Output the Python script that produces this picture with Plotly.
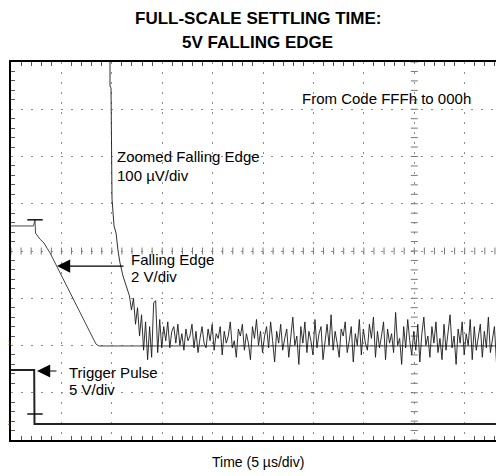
import numpy as np
import plotly.graph_objects as go

# scope screen: 5 us per division on x, values below are in screen divisions on y
X_MAX = 48.9

trigger_t = [0, 2.30, 2.33, 48.9]
trigger_v = [-2.52, -2.52, -3.66, -3.66]

edge_t = [0, 2.23, 2.38, 2.43, 2.88, 3.27, 3.57, 3.87, 8.43, 8.73, 48.9]
edge_v = [0.53, 0.53, 0.66, 0.38, 0.25, 0.17, 0.06, -0.04, -1.97, -2.01, -2.01]

zoom_t = [9.82, 9.82, 9.92, 10.02, 10.22, 10.42, 10.62, 10.81, 11.11, 11.51]
zoom_v = [4.13, 3.49, 3.45, 1.10, 0.53, 0.38, 0.0, -0.25, -0.53, -0.80]

# settling noise on the zoomed trace, one reading every 0.2 us from 11.75 us
zoom_noise = [
    -0.95, -1.25, -1.00, -1.55, -1.20, -1.80, -1.35, -2.10, -1.50, -2.30,
    -1.60, -2.25, -1.10, -1.05, -2.15, -1.45,
    -2.05, -1.60, -1.90, -1.50, -2.05, -1.70, -1.60, -1.95, -1.55, -2.00,
    -1.75, -2.10, -1.65, -1.90, -1.80, -1.55, -2.05, -1.70, -2.15, -1.85,
    -1.60, -1.95, -2.05, -1.65, -1.90, -1.55, -2.10, -1.75, -1.85, -1.60,
    -2.20, -1.70, -1.95, -1.80, -1.50, -2.05, -1.90, -2.25, -1.65, -1.80,
    -1.55, -2.10, -1.75, -1.95, -2.30, -1.60, -1.85, -1.45, -2.00, -1.70,
    -2.15, -1.80, -1.60, -2.05, -1.50, -1.90, -2.35, -1.70, -1.95, -1.55,
    -2.10, -1.85, -1.65, -2.25, -1.75, -1.40, -2.00, -1.80, -2.40, -1.60,
    -1.95, -1.50, -2.15, -1.70, -1.90, -2.20, -1.45, -2.05, -1.75, -1.60,
    -2.30, -1.85, -1.55, -2.00, -1.35, -2.10, -1.70, -1.95, -2.25, -1.65,
    -1.80, -1.50, -2.15, -1.90, -1.60, -2.35, -1.75, -2.00, -1.45, -2.20,
    -1.65, -1.95, -2.10, -1.55, -1.85, -1.40, -2.25, -1.70, -2.05, -1.80,
    -1.50, -2.30, -1.65, -1.95, -1.75, -2.15, -1.30, -2.00, -1.85, -2.40,
    -1.60, -2.05, -1.45, -1.90, -2.20, -1.70, -2.10, -1.55, -2.35, -1.75,
    -1.40, -2.00, -1.80, -2.25, -1.60, -1.95, -1.50, -2.15, -1.85, -2.30,
    -1.55, -2.10, -1.70, -1.35, -2.05, -1.80, -2.40, -1.65, -1.95, -1.50,
    -2.20, -1.75, -2.00, -1.45, -2.30, -1.60, -2.10, -1.85, -1.55, -2.25,
    -1.70, -2.05, -1.40, -2.15, -1.90, -1.60, -2.35, -1.75, -2.00, -1.50,
    -2.10, -1.65,
]
NOISE_T0 = 11.75
NOISE_DT = 0.2

# scope cursor bars (falling edge start, trigger)
cursor_t = [2.38, 2.38]
cursor_v = [0.66, -3.45]

FONT = "Liberation Sans, Arial, Helvetica, sans-serif"

noise_t = NOISE_T0 + NOISE_DT * np.arange(len(zoom_noise))

fig = go.Figure()

# center graticule tick marks
xt = np.arange(0, X_MAX, 1.0)
fig.add_trace(go.Scatter(
    x=xt, y=np.zeros(len(xt)),
    mode="markers", hoverinfo="skip",
    marker=dict(symbol="line-ns", size=5, line=dict(color="#777", width=1)),
))
yt = np.arange(-4, 4.01, 0.2)
fig.add_trace(go.Scatter(
    x=np.full(len(yt), 40.0), y=yt,
    mode="markers", hoverinfo="skip",
    marker=dict(symbol="line-ew", size=5, line=dict(color="#777", width=1)),
))

fig.add_trace(go.Scatter(
    x=trigger_t, y=trigger_v, mode="lines",
    line=dict(color="#222", width=2),
))
fig.add_trace(go.Scatter(
    x=edge_t, y=edge_v, mode="lines",
    line=dict(color="#444", width=1),
))
fig.add_trace(go.Scatter(
    x=list(zoom_t) + list(noise_t), y=list(zoom_v) + list(zoom_noise),
    mode="lines", line=dict(color="#1a1a1a", width=0.9),
))
fig.add_trace(go.Scatter(
    x=cursor_t, y=cursor_v, mode="markers",
    marker=dict(symbol="line-ew", size=11, line=dict(color="#111", width=1.5)),
))

def label(text, t, v, size=15):
    return dict(x=t, y=v, xref="x", yref="y", text=text, showarrow=False,
                xanchor="left", yanchor="middle",
                font=dict(family=FONT, size=size, color="black"))

annotations = [
    label("Zoomed Falling Edge", 10.32, 2.01),
    label("100 \u00b5V/div", 10.32, 1.59),
    label("Falling Edge", 11.71, -0.17),
    label("2 V/div", 11.71, -0.53),
    label("Trigger Pulse", 5.56, -2.57),
    label("5 V/div", 5.56, -2.94),
    label("From Code FFFh to 000h", 28.7, 3.22),
    # arrows
    dict(x=4.56, y=-0.32, ax=11.31, ay=-0.32, xref="x", yref="y",
         axref="x", ayref="y", text="", showarrow=True, arrowhead=2,
         arrowsize=2.2, arrowwidth=1.2, arrowcolor="black"),
    dict(x=2.58, y=-2.54, ax=4.66, ay=-2.54, xref="x", yref="y",
         axref="x", ayref="y", text="", showarrow=True, arrowhead=2,
         arrowsize=2.2, arrowwidth=1.2, arrowcolor="black"),
    # titles
    dict(x=0.501, y=1.1138, xref="paper", yref="paper", showarrow=False,
         text="<b>FULL-SCALE SETTLING TIME:</b>", xanchor="center", yanchor="middle",
         font=dict(family=FONT, size=17, color="black")),
    dict(x=0.501, y=1.0529, xref="paper", yref="paper", showarrow=False,
         text="<b>5V FALLING EDGE</b>", xanchor="center", yanchor="middle",
         font=dict(family=FONT, size=17, color="black")),
    dict(x=0.501, y=-0.0582, xref="paper", yref="paper", showarrow=False,
         text="Time (5 \u00b5s/div)", xanchor="center", yanchor="middle",
         font=dict(family=FONT, size=14, color="black")),
    # channel / trigger level markers
    dict(x=-0.0061, y=-1.95, xref="paper", yref="y", showarrow=False, text="1",
         xanchor="left", yanchor="middle", borderpad=0, borderwidth=0,
         font=dict(family=FONT, size=5, color="#444")),
    dict(x=-0.0061, y=-3.64, xref="paper", yref="y", showarrow=False, text="2",
         xanchor="left", yanchor="middle", borderpad=0, borderwidth=0,
         font=dict(family=FONT, size=5, color="#444")),
    dict(x=1.0, y=-3.11, xref="paper", yref="y", showarrow=False, text="\u25c0",
         xanchor="right", yanchor="middle", borderpad=0, borderwidth=0,
         font=dict(family=FONT, size=7, color="#222")),
]

# the page body adds 8px around the figure, so the figure is 8px smaller
fig.update_layout(
    width=496, height=468,
    margin=dict(l=3, r=0, t=54, b=36),
    plot_bgcolor="white", paper_bgcolor="white",
    showlegend=False,
    annotations=annotations,
    xaxis=dict(
        range=[0, X_MAX], tick0=0, dtick=5,
        showgrid=True, gridcolor="#8c8c8c", gridwidth=1, griddash="2px,8px",
        showline=True, linecolor="black", linewidth=2, mirror="ticks",
        ticks="", showticklabels=False, zeroline=False,
        minor=dict(dtick=1, ticks="inside", ticklen=4, tickcolor="#555", showgrid=False),
    ),
    yaxis=dict(
        range=[-4, 4], tick0=0, dtick=1,
        showgrid=True, gridcolor="#8c8c8c", gridwidth=1, griddash="2px,8px",
        showline=True, linecolor="black", linewidth=2,
        ticks="", showticklabels=False, zeroline=False,
        minor=dict(dtick=0.2, ticks="inside", ticklen=4, tickcolor="#555", showgrid=False),
    ),
)

fig.write_html("out.html")
